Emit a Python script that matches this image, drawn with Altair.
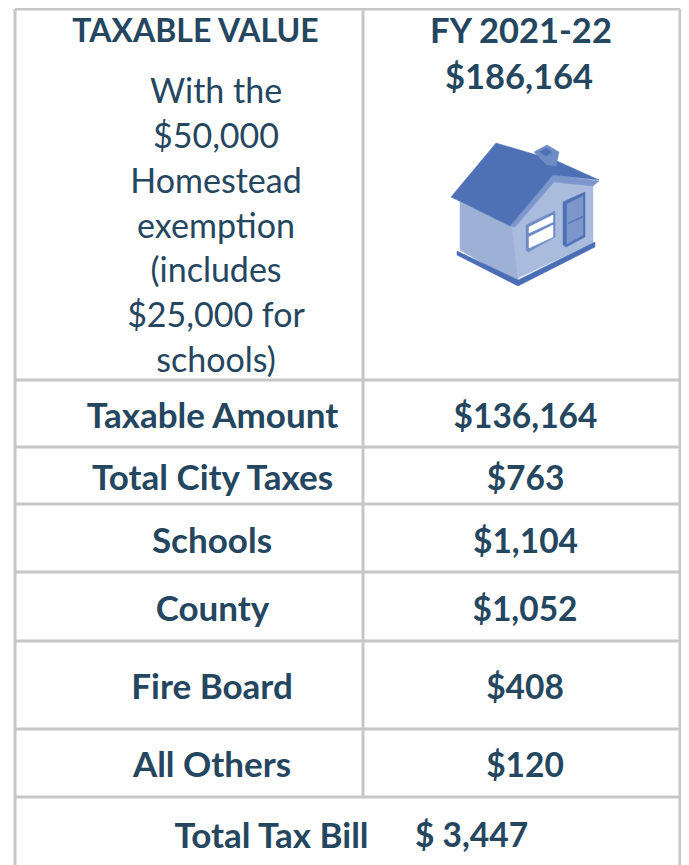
import altair as alt
import pandas as pd

LINE = "#c6c6c6"
INK = "#24465f"
FONT = "Lato"

# the picture area that can be reached (page margin 8px, svg width limited by the body)
LEFT, TOP, RIGHT, BOTTOM = 8, 8, 681, 865

# grid lines, in picture pixels
h_lines = [380, 447, 504, 572, 641, 729, 797]
left_x, mid_x, right_x, top_y = 15, 363, 680, 9

# text groups: (font size, weight, [(label, x, y), ...])
texts = [
    (32, "bold", [("TAXABLE VALUE", 195.5, 31.5)]),
    (34.5, "bold", [("FY 2021-22", 521, 33), ("$186,164", 519, 79)]),
    (34, "normal", [("With the", 216, 93), ("$50,000", 216, 138), ("Homestead", 216, 183),
                    ("exemption", 216, 228), ("(includes", 216, 272), ("$25,000 for", 216, 317),
                    ("schools)", 216, 362)]),
    (35, "bold", [("Taxable Amount", 212.5, 417), ("Total City Taxes", 212.5, 479),
                  ("Schools", 212, 542), ("County", 212.5, 610), ("Fire Board", 212, 688),
                  ("All Others", 212, 766), ("Total Tax Bill", 271.5, 836.5)]),
    (33.5, "bold", [("$136,164", 525.5, 418), ("$763", 525.5, 480), ("$1,104", 525.5, 543),
                    ("$1,052", 525, 611), ("$408", 525, 689), ("$120", 525, 767),
                    ("$ 3,447", 471.5, 837)]),
]

# house polygons: (colour, vertices in picture pixels)
house = [
    ("#9db0d6", [(460, 202), (460, 250), (518, 283), (518, 226), (510, 226)]),
    ("#aabcdd", [(512, 226), (553, 182), (593, 185), (593, 243), (518, 278)]),
    ("#7d96cc", [(510, 226), (553, 175), (599, 181), (593, 186), (554, 182), (515, 227)]),
    ("#4e71b5", [(496, 143), (557, 161), (599, 180), (553, 175), (510, 226), (451, 197)]),
    ("#6d8bc4", [(534, 152), (547, 145), (559, 152), (556, 166), (547, 165)]),
    ("#4e71b5", [(540, 152), (546, 148), (552, 152), (546, 156)]),
    ("#4a6db5", [(457, 251), (518, 280), (595, 242), (595, 247), (518, 286), (457, 255)]),
    ("#6d8bc4", [(526, 225), (555, 211), (555, 237), (528, 252), (526, 250)]),
    ("#ffffff", [(529, 227), (553, 215), (553, 222), (529, 233)]),
    ("#ffffff", [(529, 237), (553, 225), (553, 237), (529, 248)]),
    ("#4e71b5", [(563, 202), (585, 192), (585, 237), (566, 247), (563, 245)]),
    ("#7d96cc", [(567, 204), (583, 196), (583, 235), (567, 244)]),
    ("#4e71b5", [(568, 223), (583, 216), (583, 217), (568, 224)]),
]

x_scale = alt.Scale(domain=[LEFT, RIGHT], range=[0, RIGHT - LEFT], nice=False, zero=False)
y_scale = alt.Scale(domain=[TOP, BOTTOM], range=[0, BOTTOM - TOP], nice=False, zero=False)
X = lambda f: alt.X(f, type="quantitative", scale=x_scale, axis=None)
Y = lambda f: alt.Y(f, type="quantitative", scale=y_scale, axis=None)

rows = [dict(x=a, y=b, x2=c, y2=d) for a, b, c, d in
        [(left_x, top_y, right_x, top_y), (left_x, top_y, left_x, BOTTOM),
         (mid_x, top_y, mid_x, h_lines[-1]), (right_x, top_y, right_x, BOTTOM),
         *[(left_x, y, right_x, y) for y in h_lines]]]
grid = alt.Chart(pd.DataFrame(rows)).mark_rule(color=LINE, strokeWidth=3).encode(
    x=X("x"), y=Y("y"), x2="x2", y2="y2")

layers = [grid]
for col, pts in house:
    df = pd.DataFrame([dict(x=a, y=b, o=j) for j, (a, b) in enumerate(pts + pts[:1])])
    layers.append(alt.Chart(df).mark_line(fill=col, stroke=col, strokeWidth=0.5).encode(
        x=X("x"), y=Y("y"), order="o:Q"))

for size, weight, items in texts:
    tdf = pd.DataFrame(items, columns=["t", "x", "y"])
    layers.append(alt.Chart(tdf).mark_text(
        font=FONT, fontSize=size, fontWeight=weight, color=INK, align="center", baseline="middle"
    ).encode(x=X("x"), y=Y("y"), text="t:N"))

chart = alt.layer(*layers).properties(
    width=RIGHT - LEFT, height=BOTTOM - TOP, padding=0, autosize=alt.AutoSizeParams(type="none")
).configure_view(stroke=None)
chart.save("out.html", embed_options={"renderer": "svg", "actions": False})
